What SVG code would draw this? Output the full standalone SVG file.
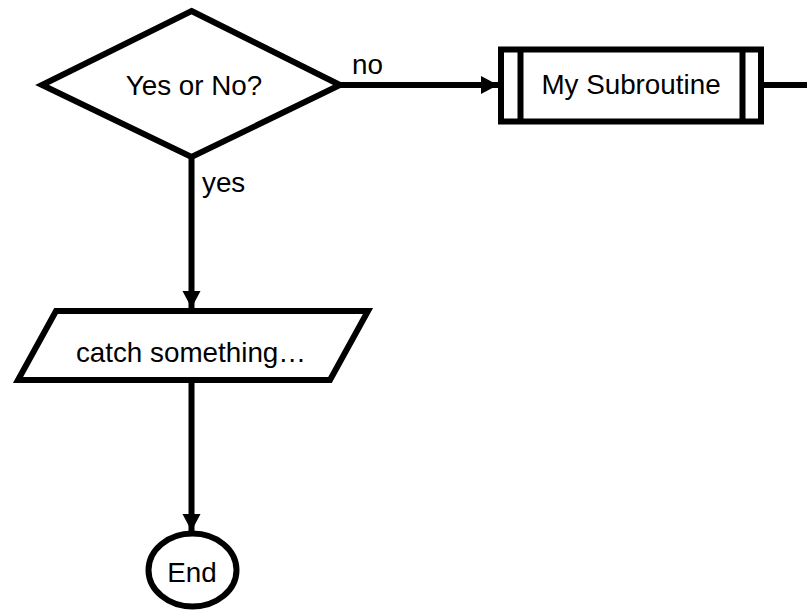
<svg xmlns="http://www.w3.org/2000/svg" width="807" height="611" viewBox="0 0 807 611">
<style>
.shape{fill:#fff;stroke:#000;stroke-width:6}
.conn{fill:none;stroke:#000;stroke-width:6}
.lbl{font-family:"Liberation Sans",Arial,sans-serif;font-size:27.8px;fill:#000}
.mid{text-anchor:middle}
</style>
<defs>
<marker id="arr" markerUnits="userSpaceOnUse" markerWidth="20" markerHeight="20" refX="17" refY="9.5" orient="auto">
<path d="M0,0.5 L17,9.5 L0,18.5 Z" fill="#000"/>
</marker>
</defs>
<rect width="807" height="611" fill="#fff"/>
<g id="connectors">
<path class="conn" d="M340,85 H498" marker-end="url(#arr)"/>
<path class="conn" d="M763,85 H807"/>
<path class="conn" d="M191.5,157 V308" marker-end="url(#arr)"/>
<path class="conn" d="M191.5,381 V531" marker-end="url(#arr)"/>
<text class="lbl" x="352" y="74">no</text>
<text class="lbl" x="202" y="192">yes</text>
</g>
<g id="decision">
<polygon class="shape" points="191.5,11 340,85 191.5,157 42,85"/>
<text class="lbl mid" x="194" y="95">Yes or No?</text>
</g>
<g id="subroutine">
<rect class="shape" x="501" y="49.5" width="260" height="72"/>
<line class="conn" x1="520.5" y1="49.5" x2="520.5" y2="121.5"/>
<line class="conn" x1="742.5" y1="49.5" x2="742.5" y2="121.5"/>
<text class="lbl mid" x="631" y="94">My Subroutine</text>
</g>
<g id="io">
<polygon class="shape" points="56,311 368,311 330,380 18,380"/>
<text class="lbl mid" x="191" y="362">catch something…</text>
</g>
<g id="end">
<ellipse class="shape" cx="192.5" cy="570" rx="44" ry="36.5"/>
<text class="lbl mid" x="192" y="582">End</text>
</g>
</svg>
